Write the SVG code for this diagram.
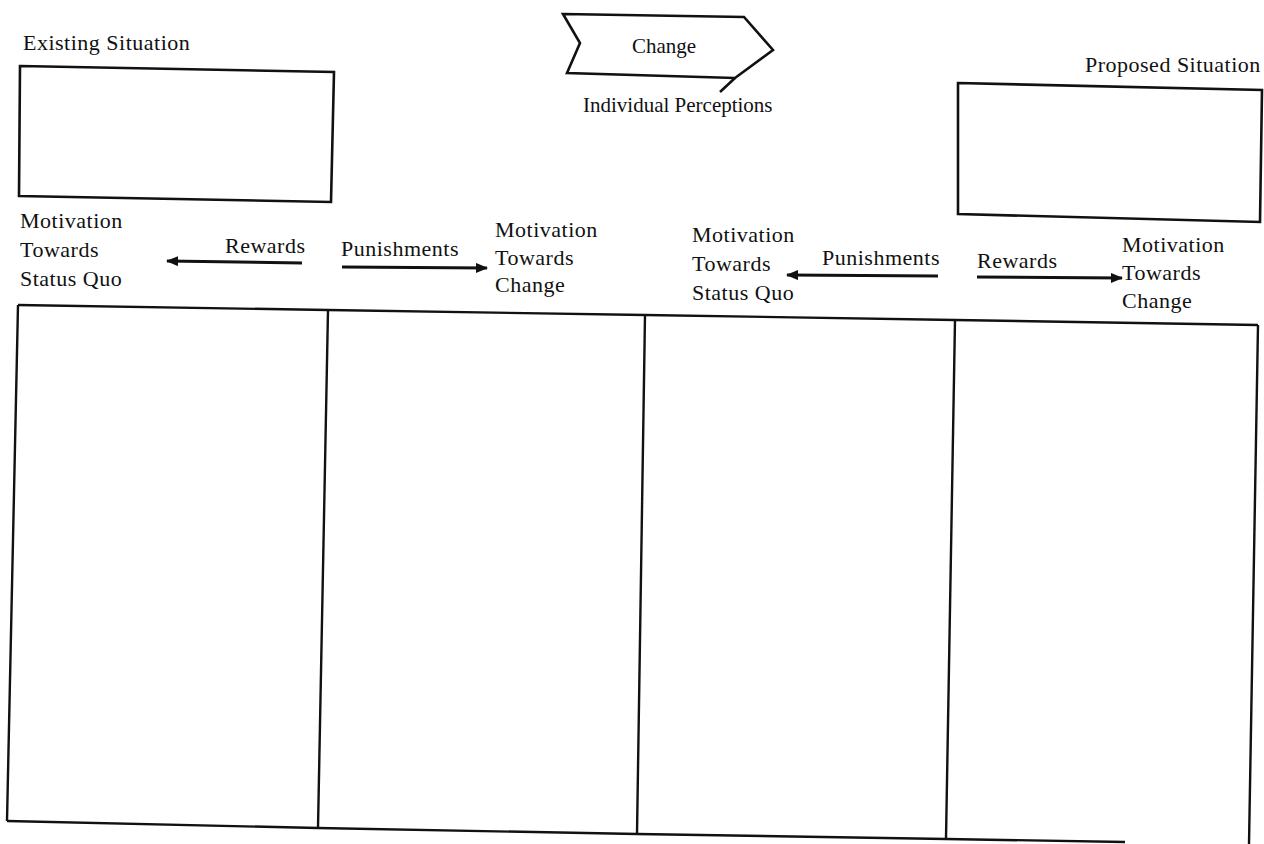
<svg xmlns="http://www.w3.org/2000/svg" width="1264" height="844" viewBox="0 0 1264 844">
<style>
text { font-family: "Liberation Serif", "Times New Roman", serif; font-size: 22px; letter-spacing: 0.5px; fill: #111; }
text.sm { font-size: 21px; letter-spacing: 0; }
.box { fill: none; stroke: #111; stroke-width: 2.6; stroke-linejoin: miter; }
.rule { fill: none; stroke: #111; stroke-width: 2.4; }
.conn { fill: none; stroke: #111; stroke-width: 3; marker-end: url(#ah); }
</style>
<defs>
<marker id="ah" viewBox="0 0 12 10" refX="11" refY="5" markerWidth="12" markerHeight="10" markerUnits="userSpaceOnUse" orient="auto">
<path d="M0,0 L12,5 L0,10 Z" fill="#111"/>
</marker>
</defs>
<rect width="1264" height="844" fill="#fff"/>

<g id="existing">
<text x="23" y="50">Existing Situation</text>
<polygon class="box" points="20,66 334,72 331,202 19,196"/>
</g>

<g id="change">
<polygon class="box" points="563,14 744,17 773,50 735,78 567,73 580,43"/>
<line class="box" x1="735" y1="78" x2="720" y2="92"/>
<text class="sm" x="632" y="53">Change</text>
<text class="sm" x="583" y="112">Individual Perceptions</text>
</g>

<g id="proposed">
<text x="1085" y="72">Proposed Situation</text>
<polygon class="box" points="958,83 1262,90 1260,222 958,214"/>
</g>

<g id="mot-sq-left">
<text x="20" y="228">Motivation</text>
<text x="20" y="257">Towards</text>
<text x="20" y="286">Status Quo</text>
</g>

<g id="mot-ch-left">
<text x="495" y="237">Motivation</text>
<text x="495" y="265">Towards</text>
<text x="495" y="292">Change</text>
</g>

<g id="mot-sq-right">
<text x="692" y="242">Motivation</text>
<text x="692" y="271">Towards</text>
<text x="692" y="300">Status Quo</text>
</g>

<g id="mot-ch-right">
<text x="1122" y="252">Motivation</text>
<text x="1122" y="280">Towards</text>
<text x="1122" y="308">Change</text>
</g>

<g id="labels">
<text x="225" y="253">Rewards</text>
<text x="341" y="256">Punishments</text>
<text x="822" y="265">Punishments</text>
<text x="977" y="268">Rewards</text>
</g>

<g id="connectors">
<line class="conn" x1="302" y1="263" x2="167" y2="261"/>
<line class="conn" x1="342" y1="267" x2="487" y2="268"/>
<line class="conn" x1="938" y1="276" x2="787" y2="275"/>
<line class="conn" x1="977" y1="277" x2="1122" y2="278"/>
</g>

<g id="table">
<polyline class="rule" points="18,305 328,310 645,315 955,320 1258,325"/>
<polyline class="rule" points="7,821 318,828 637,834 946,839 1125,842"/>
<line class="rule" x1="18" y1="305" x2="7" y2="821"/>
<line class="rule" x1="328" y1="310" x2="318" y2="828"/>
<line class="rule" x1="645" y1="315" x2="637" y2="834"/>
<line class="rule" x1="955" y1="320" x2="946" y2="839"/>
<line class="rule" x1="1258" y1="325" x2="1249" y2="844"/>
</g>
</svg>
